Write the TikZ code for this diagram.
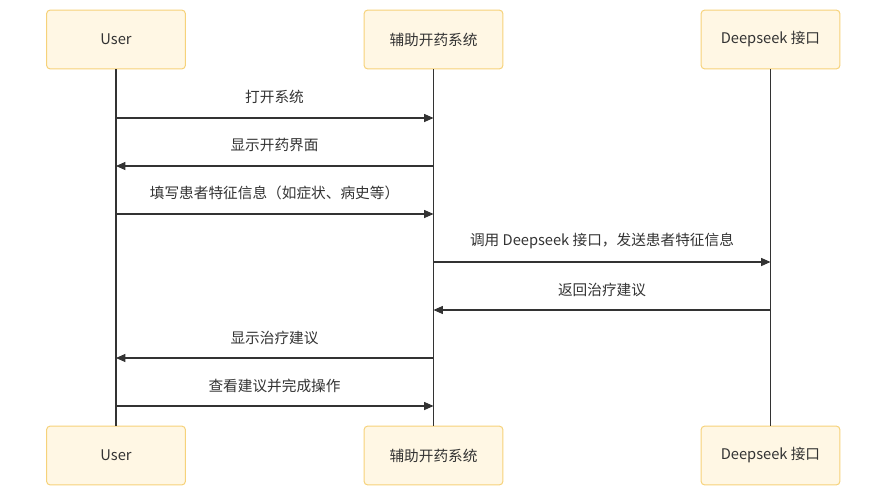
\documentclass[tikz,border=0pt]{standalone}
\usepackage{fontspec}
\setmainfont{Noto Sans CJK SC}
\usetikzlibrary{arrows.meta}
\definecolor{boxfill}{HTML}{FFF7E4}
\definecolor{boxline}{HTML}{F6D27A}
\definecolor{ink}{HTML}{333333}
\begin{document}
\begin{tikzpicture}[x=0.75pt,y=-0.75pt,
  actor/.style={draw=boxline,fill=boxfill,rounded corners=2.5pt,line width=0.75pt,minimum width=104pt,minimum height=44pt,inner sep=0pt,font=\fontsize{11}{13}\selectfont,text=ink},
  life/.style={draw=ink,line width=1.2pt},
  msg/.style={draw=ink,line width=0.8pt,-{Triangle[length=7pt,width=6pt]}},
  lbl/.style={font=\fontsize{11}{13}\selectfont,text=ink,inner sep=0pt}]
\useasboundingbox (0,0) rectangle (888,496);
\node[actor] (u1) at (116,39.5) {User};
\node[actor] (s1) at (433.5,39.5) {辅助开药系统};
\node[actor] (d1) at (770.5,39.5) {Deepseek 接口};
\node[actor] (u2) at (116,455.5) {User};
\node[actor] (s2) at (433.5,455.5) {辅助开药系统};
\node[actor] (d2) at (770.5,455.5) {Deepseek 接口};
\draw[life] (u1) -- (u2);
\draw[life] (s1) -- (s2);
\draw[life] (d1) -- (d2);
% message points
\foreach \n/\y in {1/118,2/166,3/214,4/262,5/310,6/358,7/406}{
  \coordinate (u\n) at (116,\y);
  \coordinate (s\n) at (433.5,\y);
  \coordinate (d\n) at (770.5,\y);
}
\draw[msg] (u1) -- (s1);
\draw[msg] (s2) -- (u2);
\draw[msg] (u3) -- (s3);
\draw[msg] (s4) -- (d4);
\draw[msg] (d5) -- (s5);
\draw[msg] (s6) -- (u6);
\draw[msg] (u7) -- (s7);
\node[lbl] (m1) at (274.5,97) {打开系统};
\node[lbl] (m2) at (274.5,145) {显示开药界面};
\node[lbl] (m3) at (274.5,193) {填写患者特征信息（如症状、病史等）};
\node[lbl] (m4) at (602,241) {调用 Deepseek 接口，发送患者特征信息};
\node[lbl] (m5) at (602,290) {返回治疗建议};
\node[lbl] (m6) at (274.5,338) {显示治疗建议};
\node[lbl] (m7) at (274.5,386) {查看建议并完成操作};
\end{tikzpicture}
\end{document}
